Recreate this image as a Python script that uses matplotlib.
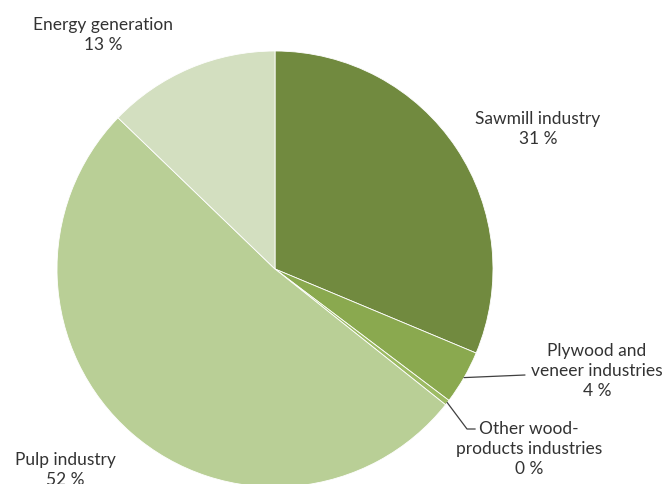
"""Pie chart of wood use by industry."""

import numpy as np
import matplotlib.pyplot as plt

plt.rcParams['font.family'] = ['Lato', 'DejaVu Sans']

# Data
categories = ['Sawmill industry', 'Plywood and\nveneer industries', 'Other wood-\nproducts industries',
              'Pulp industry', 'Energy generation']
shares = [31.3, 4.0, 0.4, 51.5, 12.8]
pct_labels = ['31 %', '4 %', '0 %', '52 %', '13 %']
colors = ['#718a3f', '#8aa94f', '#9dbb64', '#b9cf96', '#d3dfc0']

W, H = 666, 485
fig = plt.figure(figsize=(W / 100, H / 100), dpi=100)

# Pie centre and radius in pixels
cx, cy, r = 275, 270, 218
ax = fig.add_axes([(cx - r) / W, (H - cy - r) / H, 2 * r / W, 2 * r / H])
wedges, _ = ax.pie(shares, colors=colors, startangle=90, counterclock=False,
                   wedgeprops=dict(linewidth=0.6, edgecolor='white'), radius=1)
for w in wedges:
    w.set_clip_on(False)
ax.set_xlim(-1, 1)
ax.set_ylim(-1, 1)
ax.set_aspect('equal')
ax.axis('off')


def px(x, y):
    return x / W, 1 - y / H


# label positions (pixel centres of text blocks)
label_pos = [(538, 129), (597, 371), (529, 449), (65, 470), (103, 35)]
for i, (name, pct) in enumerate(zip(categories, pct_labels)):
    x, y = px(*label_pos[i])
    fig.text(x, y, name + '\n' + pct, ha='center', va='center', fontsize=12.5,
             color='#333333', linespacing=1.3)


def edge_point(w, frac=1.0):
    ang = np.deg2rad((w.theta1 + w.theta2) / 2)
    return frac * np.cos(ang), frac * np.sin(ang)


# leader lines for the small slices
x0, y0 = edge_point(wedges[1])
ax.annotate('', xy=(x0, y0), xytext=((525 - cx) / r, (cy - 376) / r),
            arrowprops=dict(arrowstyle='-', color='#404040', lw=0.9,
                            shrinkA=0, shrinkB=0), annotation_clip=False)
x1, y1 = edge_point(wedges[2])
ax.plot([x1, (467 - cx) / r, (475 - cx) / r], [y1, (cy - 430) / r, (cy - 430) / r],
        color='#404040', lw=0.9, clip_on=False)

fig.savefig('out.png', dpi=100)
